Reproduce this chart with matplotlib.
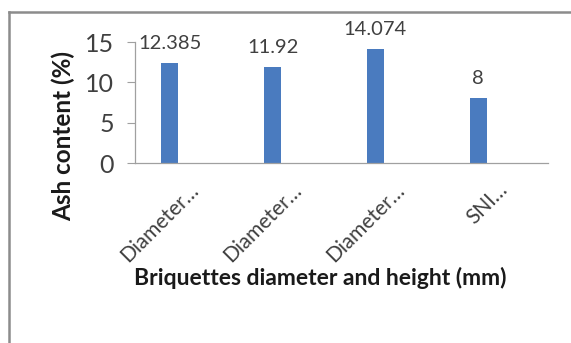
import matplotlib
matplotlib.use("Agg")
import matplotlib.pyplot as plt
from matplotlib.lines import Line2D
import matplotlib.transforms as mtransforms

categories = ["Diameter…", "Diameter…", "Diameter…", "SNI…"]
ash_content = [12.385, 11.92, 14.074, 8]
value_labels = ["12.385", "11.92", "14.074", "8"]
y_ticks = [0, 5, 10, 15]

plt.rcParams["font.family"] = ["Lato", "DejaVu Sans"]

W, H = 571, 343
fig = plt.figure(figsize=(W / 100, H / 100), dpi=100)
fig.patch.set_facecolor("white")

# outer chart frame (left and top edges)
frame_kw = dict(transform=fig.transFigure, color="#8c8c8c", linewidth=1.8)
fig.lines.append(Line2D([9 / W, 9 / W], [0, 1 - 12 / H], **frame_kw))
fig.lines.append(Line2D([9 / W, 1], [1 - 12 / H, 1 - 12 / H], **frame_kw))

ax = fig.add_axes([135 / W, (H - 163) / H, 413 / W, 121 / H])
x = list(range(len(categories)))
ax.bar(x, ash_content, width=0.165, color="#4a7bbf", zorder=2)
ax.set_xlim(-0.34, len(categories) - 1 + 0.68)
ax.set_ylim(0, 15)
ax.set_yticks(y_ticks)
ax.set_yticklabels([str(t) for t in y_ticks], fontsize=18, color="#404040")
ax.tick_params(axis="y", length=6, width=0.8, color="#a0a0a0", pad=9)
ax.tick_params(axis="x", length=0, pad=2)

for s in ["top", "right"]:
    ax.spines[s].set_visible(False)
for s in ["left", "bottom"]:
    ax.spines[s].set_color("#a0a0a0")
    ax.spines[s].set_linewidth(0.9)

for xi, v, lab in zip(x, ash_content, value_labels):
    ax.annotate(lab, (xi, v), xytext=(0, 8), textcoords="offset points",
                ha="center", va="bottom", fontsize=14.5, color="#404040")

ax.set_xticks(x)
ax.set_xticklabels(categories, rotation=45, ha="right", va="center",
                   rotation_mode="anchor", fontsize=15, color="#404040")
offset = mtransforms.ScaledTranslation(26 / 100, -21 / 100, fig.dpi_scale_trans)
for lbl in ax.get_xticklabels():
    lbl.set_transform(lbl.get_transform() + offset)

fig.text(320 / W, 1 - 278 / H, "Briquettes diameter and height (mm)",
         ha="center", va="center", fontsize=16.5, fontweight="bold", color="#1a1a1a")
fig.text(63 / W, 1 - 136 / H, "Ash content (%)", rotation=90,
         ha="center", va="center", fontsize=17.5, fontweight="bold", color="#1a1a1a")

fig.savefig("out.png", dpi=100)
